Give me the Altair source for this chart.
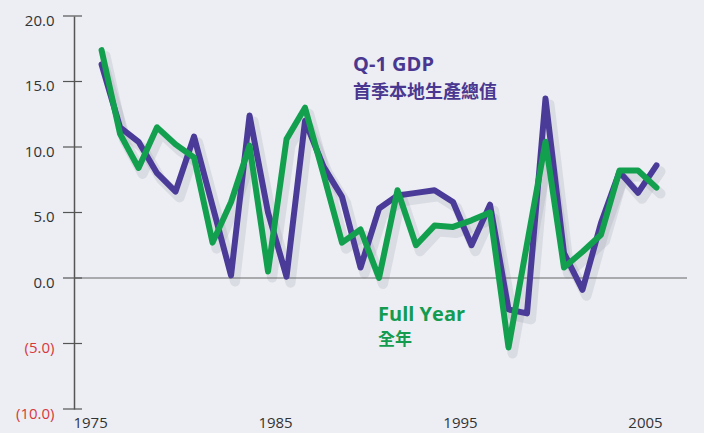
import altair as alt
import pandas as pd

years = list(range(1976, 2007))
q1_gdp = [16.3, 11.5, 10.4, 8.0, 6.6, 10.8, 5.5, 0.2, 12.4, 5.0,
          0.1, 12.0, 8.5, 6.2, 0.8, 5.3, 6.3, 6.5, 6.7, 5.8,
          2.5, 5.6, -2.4, -2.7, 13.7, 1.9, -0.9, 4.2, 8.1, 6.5, 8.6]
full_year = [17.4, 11.0, 8.4, 11.5, 10.2, 9.2, 2.7, 5.8, 10.1, 0.5,
             10.6, 13.0, 7.9, 2.7, 3.7, 0.0, 6.7, 2.5, 4.0, 3.9,
             4.4, 5.0, -5.3, 2.6, 10.4, 0.8, 2.0, 3.3, 8.2, 8.2, 6.9]
series_names = ["Q-1 GDP", "Full Year"]
y_ticks = [-10, -5, 0, 5, 10, 15, 20]
x_ticks = [1975, 1985, 1995, 2005]

rows = []
for name, vals in zip(series_names, [q1_gdp, full_year]):
    for yr, v in zip(years, vals):
        rows.append({"year": yr, "value": v, "series": name})
df = pd.DataFrame(rows)

PURPLE = "#4b3b98"
GREEN = "#12a04e"

xscale = alt.Scale(domain=[1974.51, 2007.65], nice=False, zero=False)
yscale = alt.Scale(domain=[-10, 20], nice=False, zero=False)

x_enc = alt.X("year:Q", scale=xscale, axis=alt.Axis(
    values=x_ticks, format="d", title=None, grid=False, ticks=False, domain=False,
    labelFontSize=15, labelFont="Open Sans", labelColor="#333333",
    labelPadding=6, labelOffset=7))
y_enc = alt.Y("value:Q", scale=yscale, axis=alt.Axis(
    values=y_ticks, title=None, grid=False, ticks=False,
    domainColor="#555555", domainWidth=1.5,
    labelExpr="datum.value < 0 ? '(' + format(-datum.value, '.1f') + ')' : format(datum.value, '.1f')",
    labelColor={"condition": {"test": "datum.value < 0", "value": "#d8383c"}, "value": "#333333"},
    labelFontSize=15, labelFont="Open Sans", labelPadding=20, labelOffset=4))

color = alt.Color("series:N", scale=alt.Scale(domain=series_names, range=[PURPLE, GREEN]), legend=None)

base = alt.Chart(df)

shadow = base.mark_line(strokeWidth=10, color="#8c8c9c", opacity=0.18, xOffset=4, yOffset=6,
                        strokeJoin="round", strokeCap="round").encode(
    x=x_enc, y=y_enc, detail="series:N")

zero = alt.Chart(pd.DataFrame({"z": [0]})).mark_rule(color="#666666", strokeWidth=1).encode(
    y=alt.Y("z:Q", scale=yscale))

lines = base.mark_line(strokeWidth=6, strokeJoin="round", strokeCap="round").encode(
    x=x_enc, y=y_enc, color=color, order=alt.Order("year:Q"))

tick_df = pd.DataFrame({"t": y_ticks})
ticks = alt.Chart(tick_df).mark_rule(color="#555555", strokeWidth=1.2).encode(
    y=alt.Y("t:Q", scale=yscale), x=alt.value(-11), x2=alt.value(8))

def label(text, xv, yv, col, size, font):
    return alt.Chart(pd.DataFrame({"a": [0]})).mark_text(
        text=text, align="left", baseline="alphabetic", fontSize=size,
        fontWeight="bold", font=font, color=col).encode(
        x=alt.X("xx:Q", scale=xscale), y=alt.Y("yy:Q", scale=yscale)).transform_calculate(
        xx=str(xv), yy=str(yv))

t1 = label("Q-1 GDP", 1989.6, 15.8, "#4a3790", 20, "Open Sans")
t2 = label("首季本地生產總值", 1989.6, 13.75, "#4a3790", 18, "Noto Sans CJK TC")
t3 = label("Full Year", 1990.95, -3.3, "#139c50", 20, "Open Sans")
t4 = label("全年", 1990.95, -5.1, "#139c50", 17, "Noto Sans CJK TC")

chart = alt.layer(shadow, zero, lines, ticks, t1, t2, t3, t4).properties(
    width=613, height=393,
    autosize=alt.AutoSizeParams(type="none"),
    padding={"left": 74, "top": 16, "right": 17, "bottom": 24},
    background="#eceef3",
).configure_view(stroke=None)

chart.save("out.html", embed_options={"renderer": "svg", "actions": False})
